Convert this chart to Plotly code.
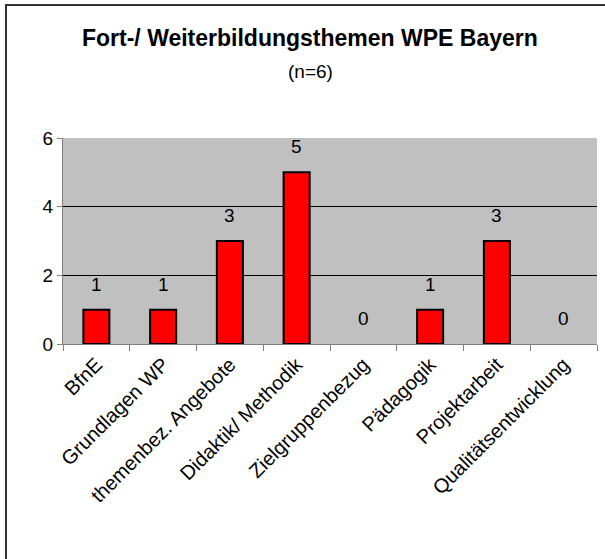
import plotly.graph_objects as go

categories = ["BfnE", "Grundlagen WP", "themenbez. Angebote", "Didaktik/ Methodik",
              "Zielgruppenbezug", "Pädagogik", "Projektarbeit", "Qualitätsentwicklung"]
values = [1, 1, 3, 5, 0, 1, 3, 0]
y_ticks = [0, 2, 4, 6]
title_text = "Fort-/ Weiterbildungsthemen WPE Bayern"
subtitle_text = "(n=6)"

W, H = 605, 559
L, R, T, B = 63, 8, 138, 215
pw, ph = W - L - R, H - T - B

def px_x(x):
    return (x - L) / pw

def px_y(y):
    return (H - B - y) / ph

FONT = "Liberation Sans, Arial, sans-serif"

fig = go.Figure()
fig.add_trace(go.Bar(
    x=categories, y=values, width=0.39,
    marker=dict(color="#FF0000",
                line=dict(color="#000000", width=[2 if v > 0 else 0 for v in values])),
    hoverinfo="skip",
))

annotations = []
for c, v in zip(categories, values):
    annotations.append(dict(x=c, y=v, xref="x", yref="y", text=str(v), showarrow=False,
                            yanchor="bottom", yshift=13,
                            font=dict(family=FONT, size=19, color="#000")))
annotations.append(dict(x=px_x(310), y=px_y(38), xref="paper", yref="paper",
                        text="<b>" + title_text + "</b>", showarrow=False,
                        xanchor="center", yanchor="middle",
                        font=dict(family=FONT, size=23, color="#000")))
annotations.append(dict(x=px_x(310), y=px_y(72), xref="paper", yref="paper",
                        text=subtitle_text, showarrow=False,
                        xanchor="center", yanchor="middle",
                        font=dict(family=FONT, size=19, color="#000")))

fig.update_layout(
    width=W, height=H,
    margin=dict(l=L, r=R, t=T, b=B, pad=0),
    paper_bgcolor="white", plot_bgcolor="#C0C0C0",
    showlegend=False,
    annotations=annotations,
    shapes=[dict(type="rect", xref="paper", yref="paper",
                 x0=px_x(6), x1=px_x(640), y0=px_y(5), y1=px_y(600),
                 line=dict(color="#333333", width=2), fillcolor="rgba(0,0,0,0)", layer="above")],
    xaxis=dict(
        type="category", tickangle=-45, tickson="boundaries",
        ticks="outside", ticklen=6, tickcolor="#808080", tickwidth=1,
        showline=True, linecolor="#808080", linewidth=1,
        showgrid=False, zeroline=False,
        tickfont=dict(family=FONT, size=20, color="#000"),
    ),
    yaxis=dict(
        range=[0, 6], tickvals=y_ticks, ticktext=[str(t) for t in y_ticks],
        ticks="outside", ticklen=5, tickcolor="#808080", tickwidth=1,
        showline=True, linecolor="#808080", linewidth=1,
        showgrid=True, gridcolor="#000000", gridwidth=1, zeroline=False,
        tickfont=dict(family=FONT, size=19, color="#000"),
    ),
    font=dict(family=FONT),
)

fig.write_html("out.html", config={"displayModeBar": False},
               post_script="document.body.style.margin='0';")
